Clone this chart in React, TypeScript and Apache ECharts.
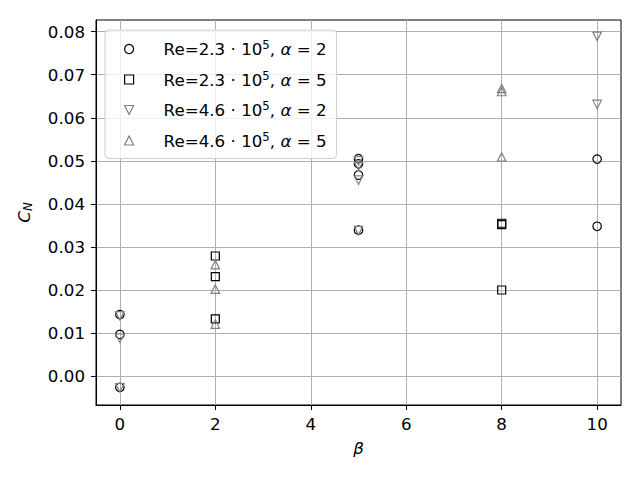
import React, { useEffect, useRef } from "react";
import * as echarts from "echarts";

const FONT = "DejaVu Sans";
const FS = 16.7;

const seriesNames = [
  "Re=2.3·10^5, α=2",
  "Re=2.3·10^5, α=5",
  "Re=4.6·10^5, α=2",
  "Re=4.6·10^5, α=5",
];
const legendLabels = [
  "Re=2.3 · 10{sup|5}, {it|α} = 2",
  "Re=2.3 · 10{sup|5}, {it|α} = 5",
  "Re=4.6 · 10{sup|5}, {it|α} = 2",
  "Re=4.6 · 10{sup|5}, {it|α} = 5",
];

// Re=2.3e5, alpha=2 (circles)
const circleBeta = [0, 0, 0, 5, 5, 5, 5, 10, 10];
const circleCN = [0.0143, 0.0097, -0.0026, 0.0505, 0.0493, 0.0467, 0.0339, 0.0504, 0.0348];
// Re=2.3e5, alpha=5 (squares)
const squareBeta = [2, 2, 2, 8, 8, 8];
const squareCN = [0.0279, 0.0231, 0.0133, 0.0355, 0.0352, 0.02];
// Re=4.6e5, alpha=2 (down triangles)
const triDownBeta = [0, 0, 0, 5, 5, 5, 5, 10, 10];
const triDownCN = [0.014, 0.0088, -0.0027, 0.05, 0.0488, 0.0455, 0.0338, 0.0789, 0.0631];
// Re=4.6e5, alpha=5 (up triangles)
const triUpBeta = [2, 2, 2, 8, 8, 8];
const triUpCN = [0.0259, 0.0202, 0.0121, 0.0668, 0.0661, 0.0509];

const xTicks = [0, 2, 4, 6, 8, 10];
const yTicks = [0, 0.01, 0.02, 0.03, 0.04, 0.05, 0.06, 0.07, 0.08];

const TRI_DOWN = "path://M0,0L2,0L1,2Z";
const TRI_UP = "path://M1,0L2,2L0,2Z";

const zip = (xs: number[], ys: number[]) => xs.map((x, i) => [x, ys[i]]);

export default function App() {
  const ref = useRef<HTMLDivElement>(null);
  useEffect(() => {
    if (!ref.current) return;
    const chart = echarts.init(ref.current, null, { renderer: "svg" });
    const mk = (name: string, data: number[][], symbol: string, color: string, size: number) => ({
      type: "scatter",
      name,
      data,
      symbol,
      symbolSize: size,
      symbolKeepAspect: true,
      itemStyle: { color: "rgba(255,255,255,0)", borderColor: color, borderWidth: 1.2, opacity: 1 },
      emphasis: { disabled: true },
    });
    const icons = ["circle", "rect", TRI_DOWN, TRI_UP];
    chart.setOption({
      animation: false,
      grid: { left: 96, right: 19, top: 20, bottom: 75, show: true, borderColor: "#000", borderWidth: 1 },
      legend: {
        orient: "vertical",
        left: 105,
        top: 30,
        padding: [9, 10, 8, 19],
        itemWidth: 9,
        itemHeight: 9,
        itemGap: 10.5,
        symbolKeepAspect: true,
        selectedMode: false,
        backgroundColor: "rgba(255,255,255,0.8)",
        borderColor: "#cccccc",
        borderWidth: 1,
        borderRadius: 4,
        itemStyle: { borderWidth: 1.2 },
        data: seriesNames.map((n, i) => ({ name: n, icon: icons[i] })),
        formatter: (name: string) => legendLabels[seriesNames.indexOf(name)],
        textStyle: {
          fontFamily: FONT,
          fontSize: FS,
          color: "#000",
          lineHeight: 20,
          padding: [0, 0, 0, 25],
          rich: {
            sup: { fontFamily: FONT, fontSize: 11.7, lineHeight: 12, verticalAlign: "top", color: "#000" },
            it: { fontFamily: FONT, fontSize: FS, fontStyle: "italic", color: "#000" },
          },
        },
      },
      xAxis: {
        type: "value",
        min: -0.5,
        max: 10.5,
        name: "β",
        nameLocation: "middle",
        nameGap: 34,
        nameTextStyle: { fontFamily: FONT, fontSize: FS, fontStyle: "italic", color: "#000" },
        axisLine: { show: true, onZero: false, lineStyle: { color: "#000", width: 1 } },
        axisTick: { show: true, length: 5, customValues: xTicks, lineStyle: { color: "#000", width: 1 } },
        axisLabel: {
          customValues: xTicks,
          margin: 10,
          fontFamily: FONT,
          fontSize: FS,
          color: "#000",
          formatter: (v: number) => String(v),
        },
        splitLine: { show: true, lineStyle: { color: "#b0b0b0", width: 1 } },
      },
      yAxis: {
        type: "value",
        min: -0.0067,
        max: 0.0827,
        name: "{it|C}{sub|N}",
        nameLocation: "middle",
        nameGap: 62,
        nameTextStyle: {
          fontFamily: FONT,
          fontSize: FS,
          color: "#000",
          lineHeight: 20,
          rich: {
            it: { fontFamily: FONT, fontSize: FS, fontStyle: "italic", lineHeight: 20, color: "#000" },
            sub: { fontFamily: FONT, fontSize: 11.7, fontStyle: "italic", lineHeight: 11, verticalAlign: "bottom", color: "#000" },
          },
        },
        axisLine: { show: true, onZero: false, lineStyle: { color: "#000", width: 1 } },
        axisTick: { show: true, length: 5, customValues: yTicks, lineStyle: { color: "#000", width: 1 } },
        axisLabel: {
          customValues: yTicks,
          margin: 11,
          fontFamily: FONT,
          fontSize: FS,
          color: "#000",
          formatter: (v: number) => v.toFixed(2),
        },
        splitLine: { show: true, lineStyle: { color: "#b0b0b0", width: 1 } },
      },
      series: [
        mk(seriesNames[0], zip(circleBeta, circleCN), "circle", "#000000", 8.5),
        mk(seriesNames[1], zip(squareBeta, squareCN), "rect", "#000000", 8),
        mk(seriesNames[2], zip(triDownBeta, triDownCN), TRI_DOWN, "#808080", 8.5),
        mk(seriesNames[3], zip(triUpBeta, triUpCN), TRI_UP, "#808080", 8.5),
      ],
    });
    return () => chart.dispose();
  }, []);
  return (
    <div
      ref={ref}
      style={{ position: "absolute", left: 0, top: 0, width: 640, height: 480 }}
    />
  );
}
